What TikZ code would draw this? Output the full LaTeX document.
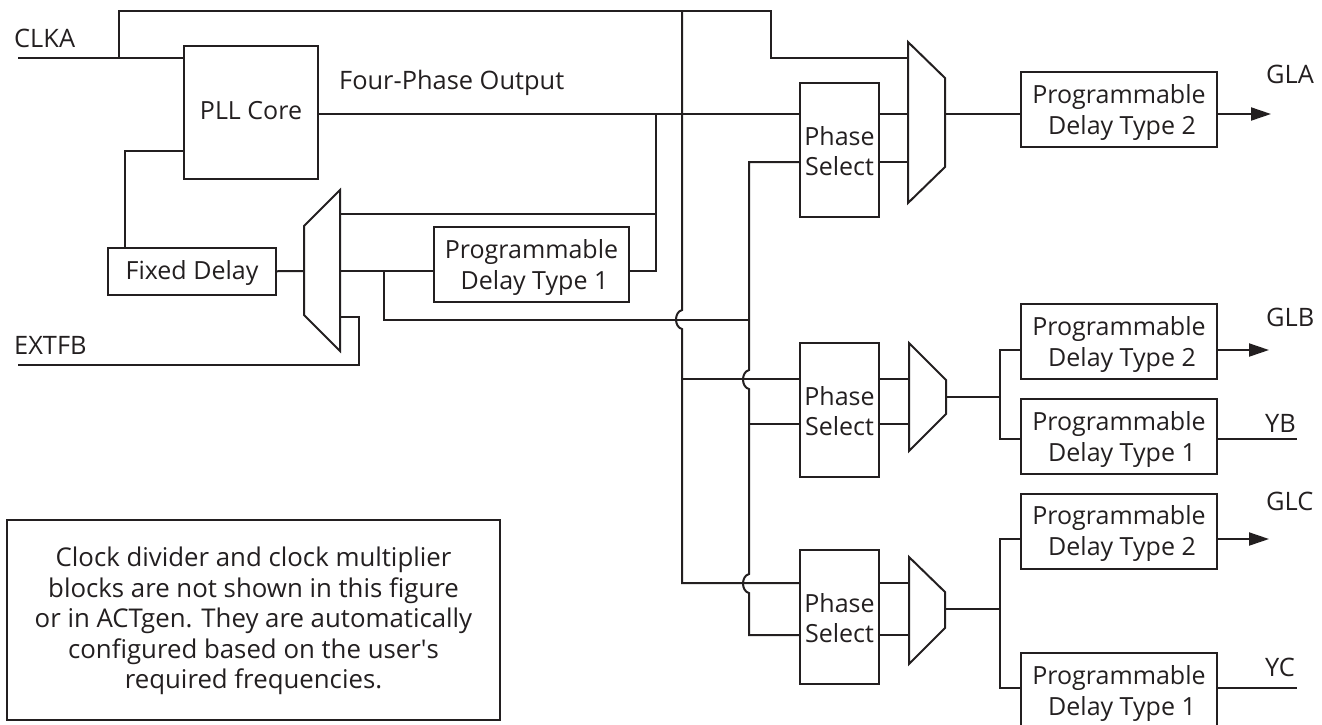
\documentclass[tikz,border=0pt]{standalone}
\usepackage{fontspec}
\setmainfont{Open Sans}
\newfontfamily\plainfont{Open Sans}
\usetikzlibrary{arrows.meta}
\definecolor{ink}{HTML}{231F20}
\tikzset{
  wire/.style={line width=2pt,draw=ink,line join=miter},
  blockbox/.style={draw=ink,line width=2pt,fill=white,inner sep=0pt,align=center,text=ink,font=\fontsize{25}{31}\selectfont},
  lbl/.style={inner sep=0pt,text=ink,font=\fontsize{25.4}{31}\selectfont,anchor=base west},
  tip/.style={-{Triangle[length=20pt,width=13pt]}},
}
\newcommand{\boxat}[7][]{\node[blockbox,minimum width=#6pt,minimum height=#7pt,#1] (#2) at (#3,#4) {#5};}
\newcommand{\pdtext}[1]{\rule{0pt}{24pt}Programmable\\\hspace*{6pt}Delay Type #1}
\newcommand{\phtext}{\rule{0pt}{22pt}Phase\\[-1pt]Select}
\begin{document}
\begin{tikzpicture}[x=1pt,y=-1pt]
\useasboundingbox (0,0) rectangle (1322,724);
% blocks
\boxat{pll}{251}{112.25}{\rule[-3.5pt]{0pt}{3.5pt}PLL Core}{134}{133.5}
\boxat{fixed}{192}{271.25}{\rule{0pt}{22pt}Fixed Delay}{168}{47.5}
\boxat{pdone}{531.5}{264.5}{\pdtext{1}}{195.5}{75}
\boxat{pha}{839.5}{150}{\phtext}{79}{134}
\boxat{phb}{839.5}{410}{\phtext}{79}{134}
\boxat{phc}{839.5}{617}{\phtext}{79}{134}
\boxat{gla}{1119}{109.5}{\pdtext{2}}{196}{75}
\boxat{glb}{1119}{341.5}{\pdtext{2}}{196}{75}
\boxat{yb}{1119}{436.5}{\pdtext{1}}{196}{75}
\boxat{glc}{1119}{531}{\pdtext{2}}{196}{75}
\boxat{yc}{1119}{690.5}{\pdtext{1}}{196}{75}
\node[blockbox,minimum width=493pt,minimum height=200pt,font=\fontsize{25.8}{30.5}\selectfont] (note) at (253.5,620) {\rule{0pt}{22pt}Clock divider and clock multiplier\\blocks are not shown in this figure\\or in ACTgen. They are automatically\\configured based on the user{\plainfont'}s\\required frequencies.};
% labels
\node[lbl] (tclk) at (14,47) {CLKA};
\node[lbl] (tfb) at (14,354) {EXTFB};
\node[lbl] (tfour) at (339,89) {Four-Phase Output};
\node[lbl] (tgla) at (1266,83) {GLA};
\node[lbl] (tglb) at (1266,326) {GLB};
\node[lbl] (tyb) at (1265,432) {YB};
\node[lbl] (tglc) at (1266,510) {GLC};
\node[lbl] (tyc) at (1265,676) {YC};
% multiplexers
\draw[wire] (304,226) -- (340,190) -- (340,351) -- (304,315) -- cycle;
\draw[wire] (908,42) -- (945,78) -- (945,167) -- (908,203) -- cycle;
\draw[wire] (909,343) -- (946,380) -- (946,414) -- (909,451) -- cycle;
\draw[wire] (909,557) -- (945,592) -- (945,628) -- (909,664) -- cycle;
% free ends and ports
\coordinate (clkin) at (18,58);
\coordinate (fbin) at (18,364.5);
\coordinate (m1r) at (340,271);
\coordinate (m1t) at (340,213.5);
\coordinate (m1b) at (340,316.5);
\coordinate (m1l) at (304,271);
\coordinate (mat) at (908,58);
\coordinate (matl) at (908,114);
\coordinate (matb) at (908,162);
\coordinate (mar) at (945,114);
\coordinate (mbl) at (909,379);
\coordinate (mbb) at (909,424);
\coordinate (mbr) at (946,397);
\coordinate (mcl) at (909,583);
\coordinate (mcb) at (909,635);
\coordinate (mcr) at (945,609);
\coordinate (outa) at (1271,114);
\coordinate (outb) at (1269,350);
\coordinate (outyb) at (1297,439);
\coordinate (outc) at (1269,539);
\coordinate (outyc) at (1297,688);
% left part
\draw[wire] (clkin) -- (pll.west |- clkin);
\draw[wire] (119,58) -- (119,11) -- (771,11) -- (771,58) -- (mat);
\draw[wire] (pll.west |- 0,151) -- (125,151) -- (125,0 |- fixed.north);
\draw[wire] (fixed.east) -- (m1l);
\draw[wire] (fbin) -- (359,364.5) -- (359,316.5) -- (m1b);
\draw[wire] (m1t) -- (655.5,213.5);
\draw[wire] (m1r) -- (pdone.west |- m1r);
\draw[wire] (pdone.east |- m1r) -- (655.5,271) -- (655.5,114);
\draw[wire] (pll.east |- 0,114) -- (pha.west |- 0,114);
% phase A
\draw[wire] (pha.east |- matl) -- (matl);
\draw[wire] (pha.east |- matb) -- (matb);
\draw[wire] (mar) -- (gla.west |- mar);
\draw[wire,tip] (gla.east |- mar) -- (outa);
% shared vertical buses with jumps
\draw[wire] (682,11) -- (682,310) .. controls (674,312) and (674,327) .. (682,329) -- (682,583) -- (phc.west |- mcl);
\draw[wire] (384,271) -- (384,319.5) -- (749,319.5);
\draw[wire] (pha.west |- matb) -- (749,162) -- (749,370) .. controls (741,372) and (741,387) .. (749,389) -- (749,574) .. controls (741,576) and (741,591) .. (749,593) -- (749,635) -- (phc.west |- mcb);
\draw[wire] (682,379) -- (phb.west |- mbl);
\draw[wire] (749,424) -- (phb.west |- mbb);
% phase B
\draw[wire] (phb.east |- mbl) -- (mbl);
\draw[wire] (phb.east |- mbb) -- (mbb);
\draw[wire] (mbr) -- (1000,397);
\draw[wire] (glb.west |- outb) -- (1000,350) -- (1000,439) -- (yb.west |- outyb);
\draw[wire,tip] (glb.east |- outb) -- (outb);
\draw[wire] (yb.east |- outyb) -- (outyb);
% phase C
\draw[wire] (phc.east |- mcl) -- (mcl);
\draw[wire] (phc.east |- mcb) -- (mcb);
\draw[wire] (mcr) -- (1000,609);
\draw[wire] (glc.west |- outc) -- (1000,539) -- (1000,688) -- (yc.west |- outyc);
\draw[wire,tip] (glc.east |- outc) -- (outc);
\draw[wire] (yc.east |- outyc) -- (outyc);
\end{tikzpicture}
\end{document}
